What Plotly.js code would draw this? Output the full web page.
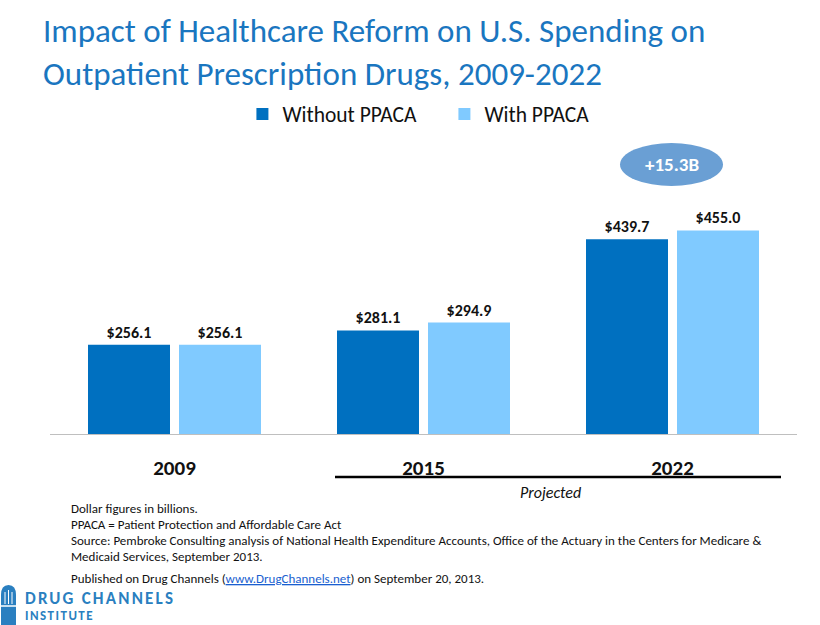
<!DOCTYPE html>
<html><head><meta charset="utf-8">
<script src="https://cdn.plot.ly/plotly-3.0.1.min.js"></script>
<style>html,body{margin:0;padding:0;background:#fff;}#chart{width:820px;height:625px;}</style>
</head><body><div id="chart"></div>
<script>
const years = ['2009', '2015', '2022'];
const seriesNames = ['Without PPACA', 'With PPACA'];
const withoutPPACA = [256.1, 281.1, 439.7];
const withPPACA = [256.1, 294.9, 455.0];
const diffLabel = '+15.3B';
const projectedLabel = 'Projected';
const footnotes = ['Dollar figures in billions.', 'PPACA = Patient Protection and Affordable Care Act',
  'Source: Pembroke Consulting analysis of National Health Expenditure Accounts, Office of the Actuary in the Centers for Medicare &',
  'Medicaid Services, September 2013.'];

const FONT = 'Carlito, Lato, "Open Sans", sans-serif';
const W = 820, H = 625, L = 50, R = 23, T = 140, B = 625 - 434;
const pw = W - L - R, ph = H - T - B;
const px = x => (x - L) / pw;          // pixel -> paper x
const py = y => (H - B - y) / ph;      // pixel -> paper y

const mk = (name, vals, color) => ({
  type: 'bar', name: name, x: years, y: vals,
  marker: {color: color},
  text: vals.map(v => '<b>$' + v.toFixed(1) + '</b>'),
  textposition: 'outside', cliponaxis: false,
  textfont: {family: FONT, size: 16, color: '#111'},
  hoverinfo: 'none'
});

const data = [mk(seriesNames[0], withoutPPACA, '#0070c0'), mk(seriesNames[1], withPPACA, '#80caff')];

const footAnn = footnotes.map((t, i) => ({xref: 'paper', yref: 'paper', x: px(69), y: py(508 + 16 * i),
  text: t, showarrow: false, align: 'left', xanchor: 'left', yanchor: 'middle',
  font: {family: FONT, size: 13, color: '#111'}}));

const layout = {
  width: W, height: H,
  margin: {l: L, r: R, t: T, b: B},
  paper_bgcolor: '#fff', plot_bgcolor: '#fff',
  font: {family: FONT, color: '#111'},
  title: {text: 'Impact of Healthcare Reform on U.S. Spending on<br>Outpatient Prescription Drugs, 2009-2022',
    x: 43 / W, xanchor: 'left', xref: 'container', y: 1 - 42 / H, yanchor: 'top', yref: 'container',
    font: {family: FONT, size: 33, color: '#1a76c0'}},
  barmode: 'group', bargap: 0.269, bargroupgap: 0.099,
  showlegend: true,
  legend: {orientation: 'h', x: 0.528, xanchor: 'center', y: py(114), yanchor: 'middle',
    font: {family: FONT, size: 21.5, color: '#111'}, traceorder: 'normal', itemwidth: 30,
    entrywidth: 157, entrywidthmode: 'pixels'},
  xaxis: {type: 'category', range: [-0.5, 2.5], showline: true, linecolor: '#bfbfbf', linewidth: 1,
    ticks: '', ticklabelstandoff: 15, tickfont: {family: FONT, size: 21, color: '#111', weight: 'bold'},
    fixedrange: true, zeroline: false, showgrid: false},
  yaxis: {range: [101, 101 + ph / 0.575], visible: false, fixedrange: true},
  shapes: [
    {type: 'line', xref: 'paper', yref: 'paper', x0: px(335), x1: px(781), y0: py(477), y1: py(477),
      line: {color: '#000', width: 2.5}},
    {type: 'circle', xref: 'paper', yref: 'paper', x0: px(620), x1: px(723), y0: py(143), y1: py(186),
      fillcolor: '#6a9fd4', line: {width: 0}},
    {type: 'path', xref: 'paper', yref: 'paper',
      path: `M ${px(1)} ${py(625)} L ${px(1)} ${py(595)} Q ${px(1)} ${py(585)} ${px(8.5)} ${py(585)} Q ${px(16)} ${py(585)} ${px(16)} ${py(595)} L ${px(16)} ${py(625)} Z`,
      fillcolor: '#2a7fc0', line: {width: 0}},
    {type: 'line', xref: 'paper', yref: 'paper', x0: px(5), x1: px(5), y0: py(592), y1: py(604),
      line: {color: '#fff', width: 1}},
    {type: 'line', xref: 'paper', yref: 'paper', x0: px(8.5), x1: px(8.5), y0: py(590), y1: py(604),
      line: {color: '#fff', width: 1}},
    {type: 'line', xref: 'paper', yref: 'paper', x0: px(12), x1: px(12), y0: py(592), y1: py(604),
      line: {color: '#fff', width: 1}},
    {type: 'line', xref: 'paper', yref: 'paper', x0: px(1), x1: px(16), y0: py(606), y1: py(606),
      line: {color: '#fff', width: 1.5}}
  ],
  annotations: [
    {xref: 'paper', yref: 'paper', x: px(671.5), y: py(164), text: '<b>' + diffLabel + '</b>', showarrow: false,
      font: {family: FONT, size: 19, color: '#fff'}, xanchor: 'center', yanchor: 'middle'},
    {xref: 'paper', yref: 'paper', x: px(550), y: py(492), text: '<i>' + projectedLabel + '</i>', showarrow: false,
      font: {family: FONT, size: 16, color: '#111'}, xanchor: 'center', yanchor: 'middle'},
    ...footAnn,
    {xref: 'paper', yref: 'paper', x: px(69), y: py(578), showarrow: false, xanchor: 'left', yanchor: 'middle',
      text: 'Published on Drug Channels (<span style="fill:#1a5fd0;text-decoration:underline">www.DrugChannels.net</span>) on September 20, 2013.',
      font: {family: FONT, size: 13, color: '#111'}},
    {xref: 'paper', yref: 'paper', x: px(23), y: py(598), showarrow: false, xanchor: 'left', yanchor: 'middle',
      text: '<span style="letter-spacing:2.2px"><b>DRUG CHANNELS</b></span>', font: {family: FONT, size: 17, color: '#2a7fc0'}},
    {xref: 'paper', yref: 'paper', x: px(23), y: py(615), showarrow: false, xanchor: 'left', yanchor: 'middle',
      text: '<span style="letter-spacing:1.5px"><b>INSTITUTE</b></span>', font: {family: FONT, size: 13, color: '#2a7fc0'}}
  ]
};

Plotly.newPlot('chart', data, layout, {displayModeBar: false, staticPlot: true});
</script></body></html>
